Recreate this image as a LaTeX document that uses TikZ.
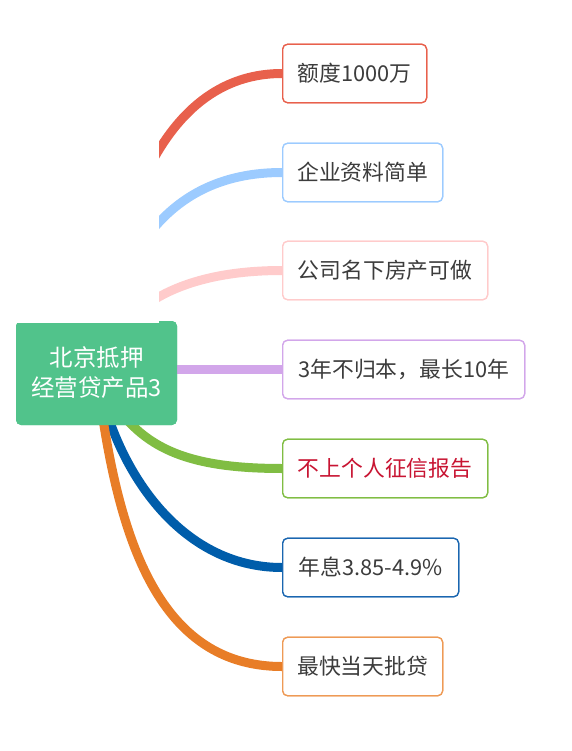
\documentclass[tikz,border=0pt]{standalone}
\usepackage{fontspec}
\setmainfont{Noto Sans CJK SC}
\usetikzlibrary{calc}
\definecolor{cRed}{HTML}{E8604C}
\definecolor{cSky}{HTML}{9CCBFF}
\definecolor{cPink}{HTML}{FFCBCB}
\definecolor{cPurple}{HTML}{D2A6EA}
\definecolor{cGreen}{HTML}{80BD43}
\definecolor{cBlue}{HTML}{005DAA}
\definecolor{cBlueB}{HTML}{1A66B0}
\definecolor{cOrange}{HTML}{E87D27}
\definecolor{cOrangeB}{HTML}{EE9A55}
\definecolor{rootFill}{HTML}{51C38B}
\definecolor{txt}{HTML}{3C3C3C}
\definecolor{txtRed}{HTML}{C81432}
\tikzset{
  x=1pt, y=-1pt,
  leaf/.style={draw, line width=1.3pt, fill=white, rounded corners=5pt,
    anchor=west, minimum height=58.5pt, inner sep=0pt, text=txt,
    font=\fontsize{21.8}{26}\selectfont},
  rootbox/.style={fill=rootFill, rounded corners=5pt, minimum width=161pt,
    minimum height=104pt, inner sep=0pt, text=white, align=center,
    font=\fontsize{23.5}{30}\selectfont},
  branch/.style={line width=9pt}
}
\begin{document}
\begin{tikzpicture}
\useasboundingbox (0,0) rectangle (571,751);
% nodes (placed first, drawn again on top after the connectors)
\node[rootbox] (root) at (96.5,373) {\phantom{x}};
\node[leaf, draw=cRed, minimum width=144pt] (c1) at (282,73.5) {额度1000万};
\node[leaf, draw=cSky, minimum width=160pt] (c2) at (282,172.5) {企业资料简单};
\node[leaf, draw=cPink, minimum width=205pt] (c3) at (282,270.5) {公司名下房产可做};
\node[leaf, draw=cPurple, minimum width=242pt] (c4) at (282,369.5) {3年不归本，最长10年};
\node[leaf, draw=cGreen, minimum width=205pt, text=txtRed] (c5) at (282,468.5) {不上个人征信报告};
\node[leaf, draw=cBlueB, minimum width=176pt] (c6) at (282,567.5) {年息3.85-4.9\%};
\node[leaf, draw=cOrangeB, minimum width=160pt] (c7) at (282,666.5) {最快当天批贷};
% connectors
\draw[branch, cRed] (root.center) .. controls (120,158) and (190,73.5) .. (c1.west);
\draw[branch, cSky] (root.center) .. controls (120,226) and (190,172.5) .. (c2.west);
\draw[branch, cPink] (root.center) .. controls (120,300) and (190,270.5) .. (c3.west);
\draw[branch, cPurple] (root.center |- c4.west) -- (c4.west);
\draw[branch, cGreen] (root.center) .. controls (130,440) and (170,468.5) .. (c5.west);
\draw[branch, cBlue] (root.center) .. controls (115,470) and (180,567.5) .. (c6.west);
\draw[branch, cOrange] (root.center) .. controls (115,520) and (150,666.5) .. (c7.west);
% white cover hiding the upper branch starts
\fill[white] (0,0) rectangle (159,323);
% redraw nodes on top
\node[rootbox] at (root.center) {北京抵押\\经营贷产品3};
\fill[white] (0,300) rectangle (159,323);
\node[leaf, draw=cRed, minimum width=144pt] at (c1.west) {额度1000万};
\node[leaf, draw=cSky, minimum width=160pt] at (c2.west) {企业资料简单};
\node[leaf, draw=cPink, minimum width=205pt] at (c3.west) {公司名下房产可做};
\node[leaf, draw=cPurple, minimum width=242pt] at (c4.west) {3年不归本，最长10年};
\node[leaf, draw=cGreen, minimum width=205pt, text=txtRed] at (c5.west) {不上个人征信报告};
\node[leaf, draw=cBlueB, minimum width=176pt] at (c6.west) {年息3.85-4.9\%};
\node[leaf, draw=cOrangeB, minimum width=160pt] at (c7.west) {最快当天批贷};
\end{tikzpicture}
\end{document}
